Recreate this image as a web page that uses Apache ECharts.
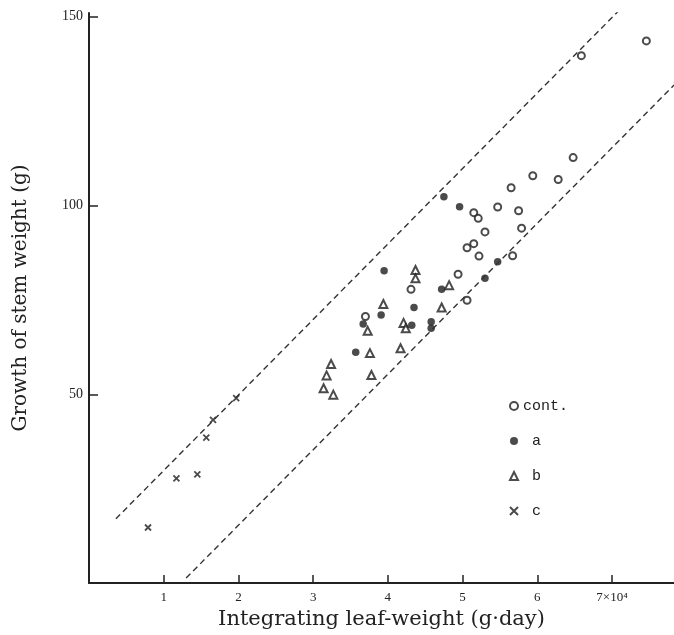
<!DOCTYPE html>
<html>
<head>
<meta charset="utf-8">
<script src="https://cdn.jsdelivr.net/npm/echarts@6/dist/echarts.min.js"></script>
<style>
html,body{margin:0;padding:0;background:#fff;}
#chart{width:674px;height:635px;}
</style>
</head>
<body>
<div id="chart"></div>
<script>
// x in units of 10^4 g·day, y in g
const contX = [3.70, 4.31, 4.94, 5.06, 5.22, 5.06, 5.15, 5.30, 7.46, 6.59, 6.48, 5.94, 6.28, 5.65, 5.47, 5.75, 5.15, 5.21, 5.79, 5.67];
const contY = [70.6, 77.8, 81.8, 74.9, 86.6, 88.8, 89.9, 93.0, 143.6, 139.7, 112.7, 107.9, 106.9, 104.7, 99.6, 98.6, 98.1, 96.6, 94.0, 86.7];
const aX = [3.95, 4.72, 3.91, 3.67, 4.35, 4.32, 4.58, 4.58, 3.57, 5.30, 5.47, 4.75, 4.96];
const aY = [82.7, 77.8, 71.0, 68.6, 73.0, 68.3, 69.2, 67.5, 61.1, 80.7, 85.1, 102.3, 99.7];
const bX = [4.37, 4.37, 3.94, 4.82, 4.72, 4.21, 4.24, 3.73, 3.76, 4.17, 3.24, 3.18, 3.78, 3.14, 3.27];
const bY = [82.9, 80.7, 73.9, 78.9, 73.0, 68.9, 67.5, 66.8, 60.9, 62.2, 58.0, 55.0, 55.1, 51.6, 49.9];
const cX = [1.97, 1.66, 1.57, 1.45, 1.17, 0.79];
const cY = [49.0, 43.2, 38.5, 28.8, 27.7, 14.7];
// dashed boundary lines (end points)
const upperLineX = [0.36, 7.09];
const upperLineY = [17.0, 151.6];
const lowerLineX = [1.30, 7.83];
const lowerLineY = [1.3, 131.9];
const xTicks = [1, 2, 3, 4, 5, 6, 7];
const yTicks = [50, 100, 150];
const seriesNames = ['cont.', 'a', 'b', 'c'];

const zip = (xs, ys) => xs.map((x, i) => [x, ys[i]]);
const ink = '#1e1e1e';
const crossPath = 'path://M0,0L10,10M10,0L0,10';

const chart = echarts.init(document.getElementById('chart'), null, {renderer: 'canvas'});
chart.setOption({
  backgroundColor: '#fff',
  animation: false,
  grid: {left: 89, right: 0, top: 13, bottom: 50},
  xAxis: {
    type: 'value', min: 0, max: 7.83,
    name: 'Integrating leaf-weight (g\u00b7day)',
    nameLocation: 'middle', nameGap: 26,
    nameTextStyle: {fontFamily: 'DejaVu Serif', fontSize: 21, color: '#222'},
    axisLine: {show: true, onZero: false, lineStyle: {color: '#222', width: 2}},
    axisTick: {show: true, inside: true, length: 8, lineStyle: {color: '#222', width: 1.5}, customValues: xTicks},
    axisLabel: {
      customValues: xTicks, margin: 8,
      fontFamily: 'Liberation Serif', fontSize: 13, color: '#222',
      formatter: v => v === 7 ? '7\u00d710\u2074' : String(v)
    },
    splitLine: {show: false}
  },
  yAxis: {
    type: 'value', min: 0, max: 151,
    name: 'Growth of stem weight (g)',
    nameLocation: 'middle', nameGap: 58,
    nameTextStyle: {fontFamily: 'DejaVu Serif', fontSize: 20, color: '#222'},
    axisLine: {show: true, onZero: false, lineStyle: {color: '#222', width: 2}},
    axisTick: {show: true, inside: true, length: 9, lineStyle: {color: '#222', width: 1.5}, customValues: yTicks},
    axisLabel: {customValues: yTicks, margin: 6, fontFamily: 'Liberation Serif', fontSize: 14, color: '#222'},
    splitLine: {show: false}
  },
  legend: {
    data: seriesNames,
    orient: 'vertical', left: 509, top: 398,
    itemWidth: 8, itemHeight: 8, itemGap: 19, padding: 0,
    textStyle: {fontFamily: 'Liberation Mono', fontSize: 15, color: '#222', lineHeight: 16},
    formatter: n => n === 'cont.' ? n : ' ' + n
  },
  series: [
    {type: 'line', data: zip(upperLineX, upperLineY), symbol: 'none', silent: true,
     lineStyle: {color: '#333', width: 1.4, type: [6, 4]}, clip: true},
    {type: 'line', data: zip(lowerLineX, lowerLineY), symbol: 'none', silent: true,
     lineStyle: {color: '#333', width: 1.4, type: [6, 4]}, clip: true},
    {name: 'cont.', type: 'scatter', data: zip(contX, contY), symbol: 'emptyCircle', symbolSize: 7,
     itemStyle: {color: ink, borderColor: ink, borderWidth: 2}},
    {name: 'a', type: 'scatter', data: zip(aX, aY), symbol: 'circle', symbolSize: 7.5,
     itemStyle: {color: ink}},
    {name: 'b', type: 'scatter', data: zip(bX, bY), symbol: 'emptyTriangle', symbolSize: 8,
     itemStyle: {color: ink, borderColor: ink, borderWidth: 1.5}},
    {name: 'c', type: 'scatter', data: zip(cX, cY), symbol: crossPath, symbolSize: 6,
     itemStyle: {color: ink, borderColor: ink, borderWidth: 1.8}}
  ]
});
</script>
</body>
</html>
